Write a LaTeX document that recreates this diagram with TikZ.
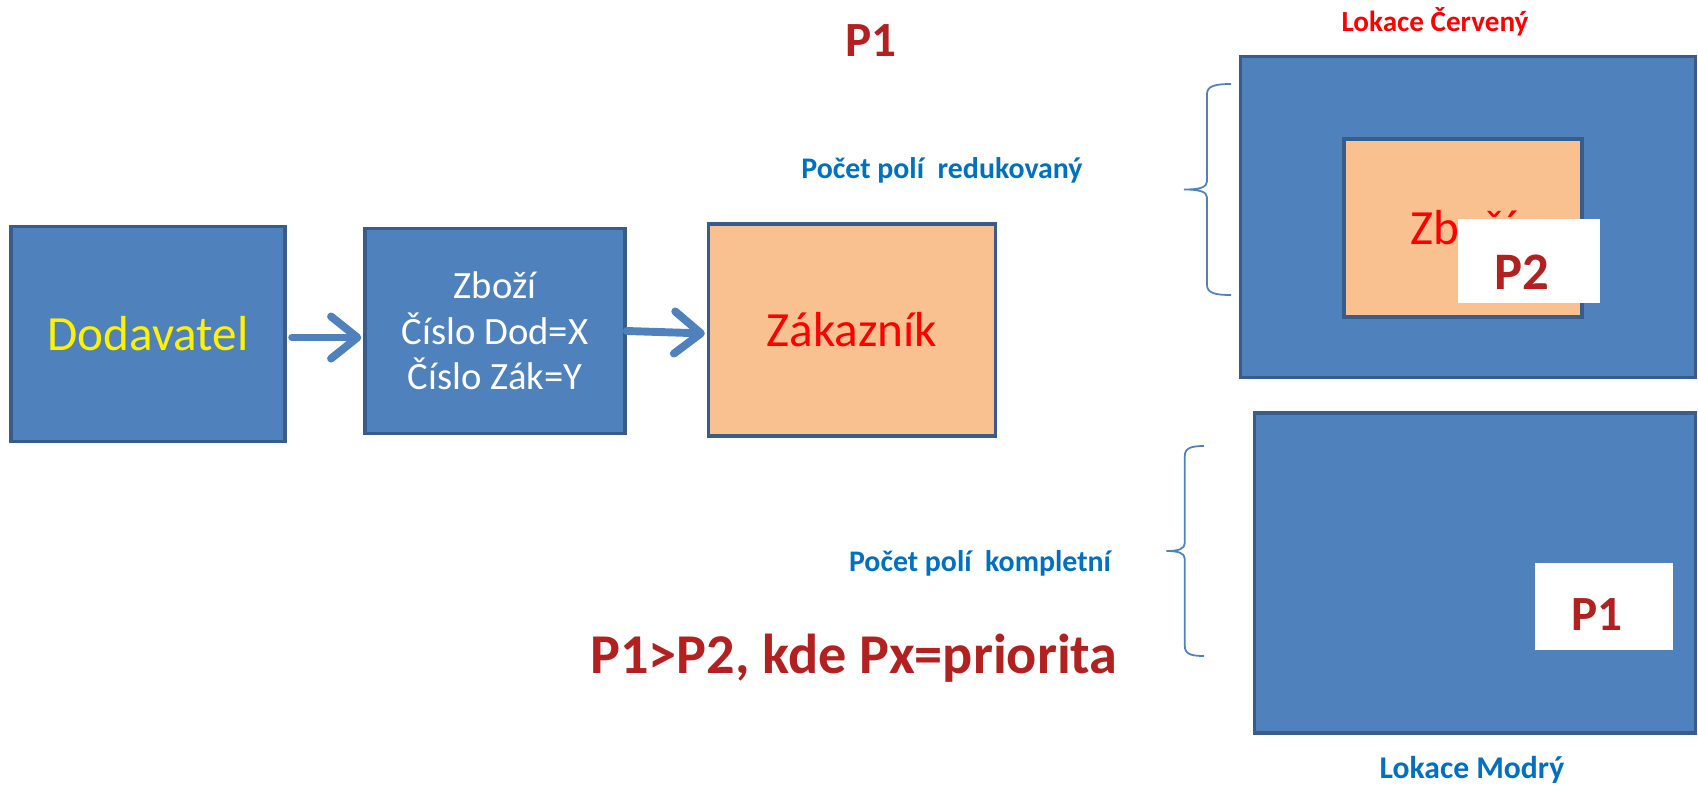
\documentclass[tikz,border=0pt]{standalone}
\usepackage{fontspec}
\setmainfont{Carlito}
\usetikzlibrary{positioning,arrows.meta}

\definecolor{modra}{HTML}{4F81BD}
\definecolor{okraj}{HTML}{385D8A}
\definecolor{oranz}{HTML}{F9C090}
\definecolor{tmavocervena}{HTML}{B22020}
\definecolor{modrytext}{HTML}{0070C0}

\begin{document}
\begin{tikzpicture}[x=0.02cm, y=0.02cm,
  blok/.style={draw=okraj, fill=modra, line width=2.2pt, inner sep=0pt},
  zbozi/.style={draw=okraj, fill=oranz, line width=2.2pt, inner sep=0pt},
  stitek/.style={fill=white, inner sep=0pt},
  velky/.style={font=\fontsize{28}{33}\selectfont},
  prio/.style={text=tmavocervena, font=\bfseries\fontsize{28}{34}\selectfont},
  popis/.style={text=modrytext, font=\bfseries\fontsize{17}{20}\selectfont},
  sipka/.style={draw=modra, line width=4.5pt, line cap=round, line join=round,
    -{Straight Barb[length=15pt, width=24pt, round]}},
  tenka/.style={draw=modra, line width=1pt},
  zavorka/.pic={
    \draw[tenka] (0,0) .. controls (-16,0) and (-24,-2) .. (-24,-10)
      -- (-24,{-#1/2+8}) .. controls (-24,{-#1/2+2}) and (-32,{-#1/2}) .. (-47,{-#1/2})
      .. controls (-32,{-#1/2}) and (-24,{-#1/2-2}) .. (-24,{-#1/2-8})
      -- (-24,{-#1+10}) .. controls (-24,{-#1+2}) and (-16,-#1) .. (0,-#1);
  }]
\useasboundingbox (0,0) rectangle (1698,-789);

% tok zbozi
\node[blok, minimum width=5.48cm, minimum height=4.3cm, text=yellow, velky] (dod) at (148,-334) {Dodavatel};
\node[blok, minimum width=5.2cm, minimum height=4.1cm, text=white, align=center,
  font=\fontsize{22}{26}\selectfont] (mid) at (495,-331) {Zboží\\Číslo Dod=X\\Číslo Zák=Y};
\node[zbozi, minimum width=5.74cm, minimum height=4.24cm, text=red, velky] (zak) at (852,-330) {Zákazník};
\draw[sipka, shorten <=3pt, shorten >=1pt] ([yshift=-2pt]dod.east) -- ([yshift=-2pt]dod.east -| mid.west);
\draw[sipka, shorten >=1pt] (mid.east) -- ([yshift=-2pt]zak.west);

\node[prio] (p1h) at (871,-41) {P1};
\node[popis] (redu) at (942,-170) {Počet polí~~redukovaný};
\node[popis] (komp) at (980,-563) {Počet polí~~kompletní};
\node[prio, font=\bfseries\fontsize{32}{38}\selectfont] (vzorec) at (854,-658) {P1>P2, kde Px=priorita};

% lokace
\node[text=red, font=\bfseries\fontsize{16.6}{20}\selectfont] (lokc) at (1435,-22) {Lokace Červený};
\node[blok, minimum width=9.1cm, minimum height=6.42cm] (cerv) at (1468,-217) {};
\node[zbozi, minimum width=4.76cm, minimum height=3.56cm, text=red, velky] (zb) at (1463,-228) {Zboží};
\node[stitek, minimum width=2.84cm, minimum height=1.68cm] (p2box) at (1529,-261) {};
\node[prio, font=\bfseries\fontsize{30}{36}\selectfont] (p2) at ([shift={(-7,-11)}]p2box.center) {P2};

\node[blok, minimum width=8.82cm, minimum height=6.4cm] (modr) at (1475,-573) {};
\node[stitek, minimum width=2.76cm, minimum height=1.74cm] (p1box) at (1604,-606) {};
\node[prio] (p1) at ([shift={(-7,-9)}]p1box.center) {P1};
\node[text=modrytext, font=\bfseries\fontsize{18}{22}\selectfont] (lokm) at (1472,-770) {Lokace Modrý};

% zavorky
\pic at (1231,-84) {zavorka=211};
\pic[xscale=0.8] at (1204,-446) {zavorka=210};
\end{tikzpicture}
\end{document}
